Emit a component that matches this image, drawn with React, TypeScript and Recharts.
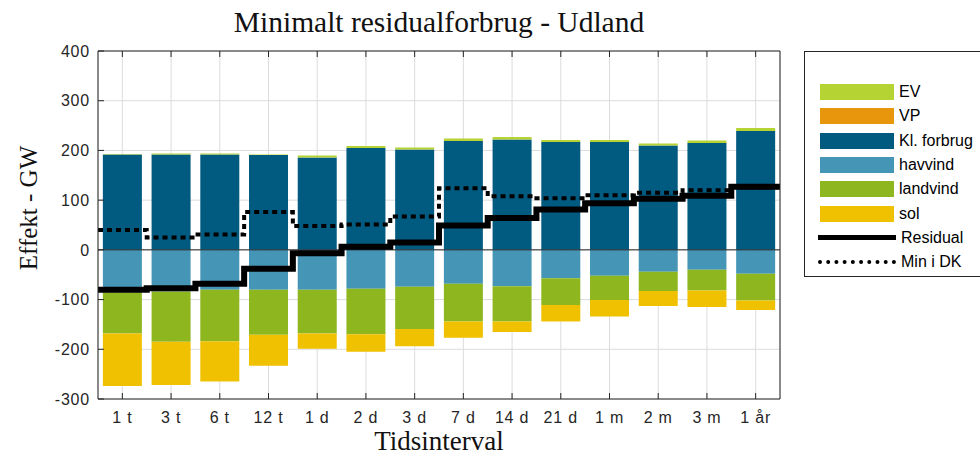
import React from 'react';
import {
    ComposedChart,
    Bar,
    Line,
    XAxis,
    YAxis,
    CartesianGrid,
    ReferenceLine
} from 'recharts';

const categories = ['1 t', '3 t', '6 t', '12 t', '1 d', '2 d', '3 d', '7 d', '14 d', '21 d', '1 m', '2 m', '3 m', '1 år'];
const klForbrug = [192, 192, 192, 191, 186, 205, 202, 219, 222, 217, 217, 210, 215, 239];
const vp = [0, 0, 0, 0, 0, 0, 0, 0, 0, 0, 0, 0, 0, 0];
const ev = [1, 2, 2, 1, 4, 4, 4, 5, 5, 4, 4, 4, 5, 6];
const havvind = [-86, -84, -80, -80, -80, -78, -74, -68, -73, -57, -52, -44, -40, -48];
const landvind = [-82, -101, -104, -91, -88, -92, -85, -76, -71, -54, -49, -39, -42, -54];
const sol = [-106, -87, -81, -62, -31, -35, -35, -33, -21, -33, -33, -30, -33, -19];
const residual = [-80, -77, -68, -38, -7, 6, 15, 49, 64, 81, 94, 103, 109, 127];
const minDK = [40, 25, 31, 76, 48, 51, 67, 124, 108, 104, 110, 115, 120, 126];
const yTicks = [-300, -200, -100, 0, 100, 200, 300, 400];

const COLORS = {
    ev: '#b6d334',
    vp: '#e8960c',
    kl: '#015a80',
    hav: '#4595b6',
    land: '#8db61f',
    sol: '#efc100'
};

const INK = '#262626';
const SANS = '"Liberation Sans", Arial, Helvetica, sans-serif';
const SERIF = '"Liberation Serif", "Times New Roman", serif';

const barRows = categories.map((cat, i) => ({
    cat,
    kl: klForbrug[i],
    vp: vp[i],
    ev: ev[i],
    hav: havvind[i],
    land: landvind[i],
    sol: sol[i]
}));

// step lines run edge to edge, so one extra point closes the last interval
const stepRows = [
    ...categories.map((_, i) => ({ x: i, residual: residual[i], minDK: minDK[i] })),
    { x: categories.length, residual: residual[residual.length - 1], minDK: minDK[minDK.length - 1] }
];

const legendItems = [
    { name: 'EV', color: COLORS.ev, kind: 'bar' },
    { name: 'VP', color: COLORS.vp, kind: 'bar' },
    { name: 'Kl. forbrug', color: COLORS.kl, kind: 'bar' },
    { name: 'havvind', color: COLORS.hav, kind: 'bar' },
    { name: 'landvind', color: COLORS.land, kind: 'bar' },
    { name: 'sol', color: COLORS.sol, kind: 'bar' },
    { name: 'Residual', color: '#000', kind: 'solid' },
    { name: 'Min i DK', color: '#000', kind: 'dotted' }
];

const tickStyle = { fontSize: 16, fill: INK, fontFamily: SANS, letterSpacing: 0.8 };
const blank = () => '';

const LegendBox = () => (
    <div
        style={{
            position: 'absolute',
            left: 804,
            top: 51,
            width: 220,
            height: 226,
            border: `1px solid ${INK}`,
            background: '#fff',
            boxSizing: 'border-box'
        }}
    >
        {legendItems.map((item, i) => (
            <div
                key={item.name}
                style={{
                    position: 'absolute',
                    left: 0,
                    top: 28 + i * 24.3,
                    height: 24,
                    display: 'flex',
                    alignItems: 'center'
                }}
            >
                {item.kind === 'bar' ? (
                    <div style={{ marginLeft: 15, width: 74, height: 16, background: item.color }} />
                ) : (
                    <div
                        style={{
                            marginLeft: 13,
                            width: 78,
                            height: 0,
                            borderTop: item.kind === 'solid' ? '5px solid #000' : '4px dotted #000'
                        }}
                    />
                )}
                <span style={{ marginLeft: 5, fontFamily: SANS, fontSize: 16, color: '#000', whiteSpace: 'nowrap' }}>
                    {item.name}
                </span>
            </div>
        ))}
    </div>
);

export default function App() {
    return (
        <div style={{ position: 'fixed', left: 0, top: 0, width: 980, height: 456, overflow: 'hidden', background: '#fff' }}>
            <div
                style={{
                    position: 'absolute',
                    left: 0,
                    width: 878,
                    top: 6,
                    textAlign: 'center',
                    fontFamily: SERIF,
                    fontSize: 29.5,
                    color: '#111'
                }}
            >
                Minimalt residualforbrug - Udland
            </div>
            <div
                style={{
                    position: 'absolute',
                    left: 29,
                    top: 208,
                    transform: 'translate(-50%, -50%) rotate(-90deg)',
                    fontFamily: SERIF,
                    fontSize: 25,
                    color: '#111',
                    whiteSpace: 'nowrap'
                }}
            >
                Effekt - GW
            </div>
            <div
                style={{
                    position: 'absolute',
                    left: 0,
                    width: 878,
                    top: 427,
                    textAlign: 'center',
                    fontFamily: SERIF,
                    fontSize: 27,
                    lineHeight: '28px',
                    color: '#111'
                }}
            >
                Tidsinterval
            </div>
            <div style={{ position: 'absolute', left: 0, top: 0 }}>
                <ComposedChart
                    width={980}
                    height={456}
                    data={barRows}
                    stackOffset="sign"
                    barCategoryGap="10%"
                    margin={{ top: 50, right: 199, bottom: 0, left: 0 }}
                >
                    <CartesianGrid xAxisId="cat" stroke="#dcdcdc" />
                    <XAxis
                        xAxisId="cat"
                        dataKey="cat"
                        height={57}
                        interval={0}
                        tickSize={-6}
                        tickMargin={19}
                        tick={tickStyle}
                        axisLine={{ stroke: INK }}
                        tickLine={{ stroke: INK }}
                    />
                    <XAxis
                        xAxisId="top"
                        dataKey="cat"
                        orientation="top"
                        height={1}
                        interval={0}
                        tickSize={-6}
                        tickFormatter={blank}
                        axisLine={{ stroke: INK }}
                        tickLine={{ stroke: INK }}
                    />
                    <XAxis xAxisId="edge" type="number" dataKey="x" domain={[0, categories.length]} allowDataOverflow hide />
                    <YAxis
                        domain={[-300, 400]}
                        ticks={yTicks}
                        width={98}
                        tickSize={-6}
                        tickMargin={14}
                        tick={tickStyle}
                        axisLine={{ stroke: INK }}
                        tickLine={{ stroke: INK }}
                        allowDataOverflow
                    />
                    <YAxis
                        yAxisId="right"
                        orientation="right"
                        domain={[-300, 400]}
                        ticks={yTicks}
                        width={1}
                        tickSize={-6}
                        tickFormatter={blank}
                        axisLine={{ stroke: INK }}
                        tickLine={{ stroke: INK }}
                    />
                    <Bar xAxisId="cat" dataKey="kl" name="Kl. forbrug" stackId="a" fill={COLORS.kl} isAnimationActive={false} />
                    <Bar xAxisId="cat" dataKey="vp" name="VP" stackId="a" fill={COLORS.vp} isAnimationActive={false} />
                    <Bar xAxisId="cat" dataKey="ev" name="EV" stackId="a" fill={COLORS.ev} isAnimationActive={false} />
                    <Bar xAxisId="cat" dataKey="hav" name="havvind" stackId="a" fill={COLORS.hav} isAnimationActive={false} />
                    <Bar xAxisId="cat" dataKey="land" name="landvind" stackId="a" fill={COLORS.land} isAnimationActive={false} />
                    <Bar xAxisId="cat" dataKey="sol" name="sol" stackId="a" fill={COLORS.sol} isAnimationActive={false} />
                    <ReferenceLine xAxisId="cat" y={0} stroke={INK} strokeWidth={1} />
                    <Line
                        xAxisId="edge"
                        data={stepRows}
                        dataKey="minDK"
                        name="Min i DK"
                        type="stepAfter"
                        stroke="#000"
                        strokeWidth={4}
                        strokeDasharray="5 4"
                        dot={false}
                        isAnimationActive={false}
                    />
                    <Line
                        xAxisId="edge"
                        data={stepRows}
                        dataKey="residual"
                        name="Residual"
                        type="stepAfter"
                        stroke="#000"
                        strokeWidth={6}
                        dot={false}
                        isAnimationActive={false}
                    />
                </ComposedChart>
            </div>
            <LegendBox />
        </div>
    );
}
